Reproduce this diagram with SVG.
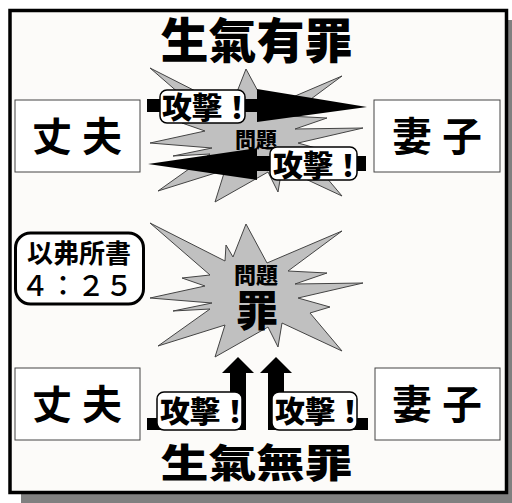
<svg xmlns="http://www.w3.org/2000/svg" width="512" height="503" viewBox="0 0 512 503">
<style>
.t{font-family:"Noto Sans CJK TC","Noto Sans CJK SC",sans-serif;fill:#000}
.title{font-size:48px;font-weight:900}
.box{fill:#fff;stroke:#444;stroke-width:1}
.name{font-size:40px;font-weight:700;letter-spacing:10px}
.star{fill:#c0c0c0;stroke:#444;stroke-width:1}
.lbl{fill:#fff;stroke:#000;stroke-width:1.5}
.lt{font-size:30px;font-weight:900}
.arr{fill:#000}
</style>
<defs>
<polygon id="starShape" points="150,223 225,261 226,245 233,257 246,224 267,263 342,231 288,271 327,273 295,284 363,283 298,298 330,307 310,313 342,351 282,323 278,347 268,327 215,357 225,325 158,346 210,309 173,311 212,303 150,298 205,286 182,278 210,275"/>
</defs>
<rect x="21" y="20" width="491" height="483" fill="#808080"/>
<rect x="10" y="10.5" width="496.5" height="482" fill="#fcfbf9" stroke="#000" stroke-width="3.5"/>

<g id="title-top"><text class="t title" x="256.5" y="58" text-anchor="middle">生氣有罪</text></g>

<g id="husband-top"><rect class="box" x="15" y="100" width="125" height="72"/><text class="t name" x="82" y="151" text-anchor="middle">丈夫</text></g>
<g id="wife-top"><rect class="box" x="374" y="100" width="126" height="72"/><text class="t name" x="442" y="151" text-anchor="middle">妻子</text></g>

<g id="star-top"><use href="#starShape" class="star" transform="translate(0,-155)"/><text class="t" x="256" y="147" text-anchor="middle" font-size="21" font-weight="900">問題</text></g>

<g id="connectors">
<polygon class="arr" points="147,99 257,99 257,89 367,107 257,122 257,112 147,112"/>
<polygon class="arr" points="366,156 257,156 257,148 148,164 257,180 257,171 366,171"/>
<polygon class="arr" points="147,418 230,418 230,373 222,373 238,357 254,373 246,373 246,430 147,430"/>
<polygon class="arr" points="268,430 268,373 260,373 276,357 292,373 284,373 284,418 368,418 368,430"/>
</g>

<g id="attack-1"><rect class="lbl" x="160" y="90" width="85" height="33" rx="7"/><text class="t lt" x="162" y="118">攻擊！</text></g>
<g id="attack-2"><rect class="lbl" x="270" y="147" width="87" height="33" rx="7"/><text class="t lt" x="273" y="176">攻擊！</text></g>

<g id="verse"><rect x="15.5" y="233" width="128" height="71" rx="15" fill="#fff" stroke="#000" stroke-width="3"/><text class="t" x="79" y="263" text-anchor="middle" font-size="26" font-weight="700">以弗所書</text><text class="t" x="21" y="296" font-size="28" font-weight="500">４：２５</text></g>

<g id="star-bottom"><use href="#starShape" class="star"/><text class="t" x="256" y="283" text-anchor="middle" font-size="22" font-weight="900">問題</text><text class="t" x="257" y="326" text-anchor="middle" font-size="42" font-weight="900">罪</text></g>

<g id="husband-bottom"><rect class="box" x="15" y="368" width="125" height="72"/><text class="t name" x="82" y="419" text-anchor="middle">丈夫</text></g>
<g id="wife-bottom"><rect class="box" x="375" y="368" width="125" height="72"/><text class="t name" x="442" y="419" text-anchor="middle">妻子</text></g>

<g id="attack-3"><rect class="lbl" x="157" y="392" width="85" height="38" rx="7"/><text class="t lt" x="160" y="422">攻擊！</text></g>
<g id="attack-4"><rect class="lbl" x="272" y="392" width="85" height="38" rx="7"/><text class="t lt" x="275" y="422">攻擊！</text></g>

<g id="title-bottom"><text class="t title" text-anchor="middle" transform="translate(256.5,477) scale(1,0.8)">生氣無罪</text></g>
</svg>
